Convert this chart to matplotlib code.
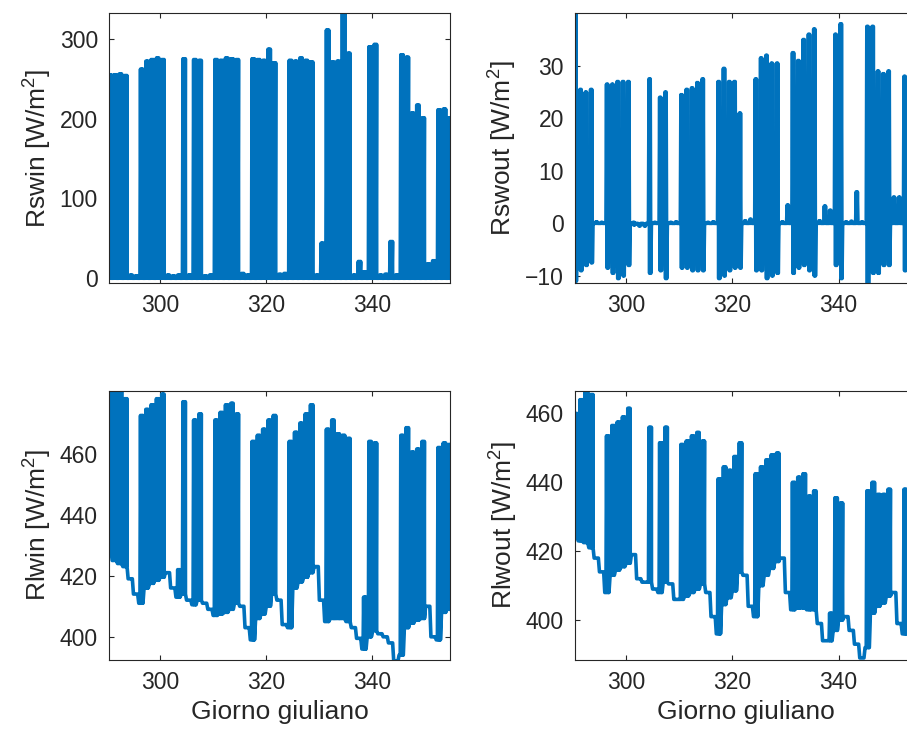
import numpy as np
import matplotlib.pyplot as plt

plt.rcParams['font.family'] = ['Liberation Sans', 'DejaVu Sans']
plt.rcParams['mathtext.default'] = 'regular'
plt.rcParams['path.simplify'] = False

# giorni giuliani (un valore notturno e uno diurno per giorno)
giorni = np.arange(290, 355)

# radiazione solare entrante: picco diurno [W/m2]
rswin_picco = [255, 255, 256, 254, 4, 3, 262, 272, 274, 276,
               274, 4, 3, 4, 275, 4, 274, 273, 3, 4,
               274, 273, 276, 275, 274, 6, 4, 275, 274, 273,
               287, 270, 5, 6, 273, 272, 276, 273, 271, 4,
               44, 311, 271, 272, 335, 282, 4, 21, 8, 290,
               293, 4, 5, 46, 4, 280, 277, 207, 217, 201,
               18, 22, 211, 212, 201]
rswin_notte = [0] * len(giorni)

# radiazione solare uscente: massimo e minimo diurno [W/m2]
rswout_picco = [41, 25.5, 25, 25.5, 0.3, 0.2, 26.5, 26.5, 27, 27,
                27, 0.2, -0.3, -0.3, 27.5, 0.2, 24, 25, 0.2, 0.3,
                24.5, 25.5, 25.8, 26.8, 27.5, 0.2, 0.3, 27, 29.5, 27,
                27, 21, 0.5, 0.8, 27.5, 31.5, 32, 30.5, 30.5, 0.3,
                3.5, 32.5, 31, 35, 36, 37, 0.5, 3.3, 2.5, 36,
                38, 0.3, 0.4, 6, 0.3, 37.5, 37.5, 29, 28.5, 29,
                5, 5, 28, 28, 26]
rswout_fondo = [-11, -9, -8, -7.5, 0, 0, -8.5, -9.5, -10.5, -10,
                -8, -0.3, -0.5, -0.5, -9.5, 0, -9, -10.5, 0, 0,
                -8.5, -8.5, -9, -9, -9, 0, 0, -10.5, -10, -9,
                -8.5, -8.5, 0, 0, -9, -9, -10.5, -10, -9.5, 0,
                0, -9.5, -8.5, -8, -9, -10, 0, 0, 0, -8,
                -10.5, 0, 0, 0, 0, -11.5, -9.5, -9.5, -8, -8,
                0, 0, -9, -9, -9]

# radiazione infrarossa entrante [W/m2]
rlwin_notte = [428, 425, 424, 423, 419, 414, 411, 416, 417.5, 418.5,
               419.5, 421, 416, 413, 414, 412, 410.5, 412, 411, 409,
               407, 407.5, 408, 409, 411, 410, 403, 399, 406, 407.5,
               410, 414, 412, 404, 403, 416, 418, 419.5, 421, 423,
               412, 405, 406, 406, 406, 405, 403, 399.5, 396, 400,
               402, 401, 400, 398, 392, 394, 403, 404.5, 405.5, 406,
               410, 400, 399, 408, 409]
rlwin_picco = [481, 481, 481, 478, 419, 414, 472.5, 474.5, 476, 478,
               479.5, 421, 416, 422, 477, 412, 471, 473, 411, 409,
               471, 473.5, 476, 476.5, 473, 410, 403, 464, 466, 468,
               471, 472.5, 412, 404, 464, 467, 470, 473, 476, 423,
               412, 468, 471, 466.5, 466, 465, 403, 399.5, 413, 464,
               463.5, 401, 400, 398, 392, 466, 468.5, 460.5, 461.5, 464,
               410, 400, 462, 463.5, 463]

# radiazione infrarossa uscente [W/m2]
rlwout_notte = [424, 423, 422.5, 421, 418, 414, 408, 413, 414.5, 415.5,
                416.5, 419, 412, 411, 411, 409, 408, 411, 410.5, 406,
                406, 407, 408, 409, 410.5, 408, 401, 396, 404.5, 406.5,
                408.5, 414, 413, 404, 401, 410, 413, 415, 417, 418,
                408, 403, 403.5, 403.5, 403, 403, 399, 394, 394, 397,
                400, 401, 397, 393, 389, 392, 402, 404, 405, 407,
                408, 399, 396, 404, 406]
rlwout_picco = [460, 464, 466.5, 465.5, 418, 414, 453.5, 456.5, 457.5, 459,
                461.5, 419, 412, 411, 456, 409, 451.5, 456, 410.5, 406,
                451, 452, 453.5, 454.5, 452, 408, 401, 441, 444.5, 443.5,
                447.5, 451.5, 413, 404, 442.5, 444.5, 446.5, 448, 448.5, 418,
                408, 440, 441.5, 442.5, 436, 437.5, 399, 394, 402, 435.5,
                434, 401, 397, 393, 389, 437.5, 440, 436.5, 436.5, 438,
                408, 399, 438, 438, 437]


def ciclo(giorni, notte, picco):
    # andamento orario approssimato: notte, poi oscillazione diurna
    x, y = [], []
    for g, n, p in zip(giorni, notte, picco):
        x += [g, g + 0.22, g + 0.33, g + 0.44, g + 0.55, g + 0.66, g + 0.77, g + 0.79]
        y += [n, n, p, n, p, n, p, n]
    return x, y


def ciclo_sw(giorni, picco, fondo):
    x, y = [], []
    for g, p, f in zip(giorni, picco, fondo):
        x += [g, g + 0.22, g + 0.33, g + 0.44, g + 0.55, g + 0.66, g + 0.78]
        y += [0, 0, p, f, p, f, 0]
    return x, y


blu = '#0072BD'
grigio = '#262626'

fig = plt.figure(figsize=(9.07, 7.40), dpi=100)
ax1 = fig.add_axes([0.1202, 0.6172, 0.376, 0.3649])
ax2 = fig.add_axes([0.6340, 0.6172, 0.376, 0.3649])
ax3 = fig.add_axes([0.1202, 0.1081, 0.376, 0.3639])
ax4 = fig.add_axes([0.6340, 0.1081, 0.376, 0.3639])

x, y = ciclo(giorni, rswin_notte, rswin_picco)
ax1.plot(x, y, color=blu, lw=2.6)
ax1.set_ylim(-6.3, 332)
ax1.set_yticks([0, 100, 200, 300])
ax1.set_ylabel('Rswin [W/m$^2$]', fontsize=19, color=grigio, labelpad=4)

x, y = ciclo_sw(giorni, rswout_picco, rswout_fondo)
ax2.plot(x, y, color=blu, lw=2.6)
ax2.set_ylim(-11.4, 40)
ax2.set_yticks([-10, 0, 10, 20, 30])
ax2.set_ylabel('Rswout [W/m$^2$]', fontsize=19, color=grigio, labelpad=4)

x, y = ciclo(giorni, rlwin_notte, rlwin_picco)
ax3.plot(x, y, color=blu, lw=2.6)
ax3.set_ylim(392.4, 480.6)
ax3.set_yticks([400, 420, 440, 460])
ax3.set_ylabel('Rlwin [W/m$^2$]', fontsize=19, color=grigio, labelpad=4)

x, y = ciclo(giorni, rlwout_notte, rlwout_picco)
ax4.plot(x, y, color=blu, lw=2.6)
ax4.set_ylim(388.4, 466.6)
ax4.set_yticks([400, 420, 440, 460])
ax4.set_ylabel('Rlwout [W/m$^2$]', fontsize=19, color=grigio, labelpad=4)

for ax in [ax1, ax2, ax3, ax4]:
    ax.set_xlim(290.4, 354.6)
    ax.set_xticks([300, 320, 340])
    ax.tick_params(direction='in', top=True, right=True, length=3.5,
                   width=0.8, colors=grigio, labelsize=16.5, pad=8)
    for s in ax.spines.values():
        s.set_color(grigio)
        s.set_linewidth(0.8)

for ax in [ax3, ax4]:
    ax.set_xlabel('Giorno giuliano', fontsize=19, color=grigio, labelpad=4)

fig.savefig('out.png', dpi=100)
